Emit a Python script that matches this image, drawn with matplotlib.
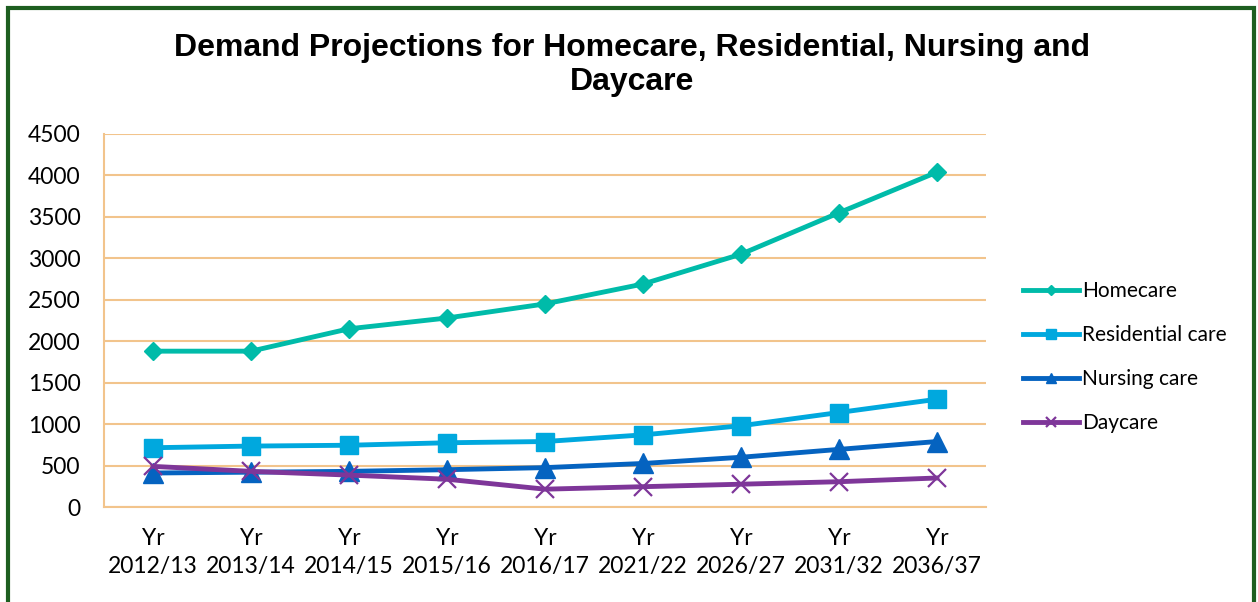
import numpy as np
import matplotlib.pyplot as plt
from matplotlib.patches import Rectangle

years = ["2012/13", "2013/14", "2014/15", "2015/16", "2016/17",
         "2021/22", "2026/27", "2031/32", "2036/37"]
homecare = [1880, 1880, 2150, 2280, 2450, 2690, 3050, 3550, 4040]
residential = [715, 735, 745, 775, 790, 870, 980, 1140, 1300]
nursing = [410, 420, 430, 450, 475, 525, 600, 695, 790]
daycare = [490, 430, 385, 335, 215, 245, 275, 305, 350]

W, H = 1258, 602
fig = plt.figure(figsize=(W / 100, H / 100), dpi=100)
ax = fig.add_axes([104 / W, 1 - 507 / H, (986 - 104) / W, (507 - 134) / H])

x = np.arange(len(years))
ax.plot(x, homecare, color="#00BBA9", lw=3.5, marker="D", ms=9.5, label="Homecare")
ax.plot(x, residential, color="#00A8DE", lw=3.5, marker="s", ms=13.5, label="Residential care")
ax.plot(x, nursing, color="#0563C0", lw=3.5, marker="^", ms=14, label="Nursing care")
ax.plot(x, daycare, color="#7E3699", lw=3.5, marker="x", ms=13, mew=1.6, label="Daycare")

ax.set_xlim(-0.5, len(years) - 0.5)
ax.set_ylim(0, 4500)
ax.set_yticks(np.arange(0, 4501, 500))
ax.set_xticks(x)
ax.set_xticklabels(["Yr\n" + y for y in years], linespacing=1.45)

grid_col = "#F2C48C"
ax.grid(axis="y", color=grid_col, lw=1.5)
ax.set_axisbelow(True)
for s in ["top", "right"]:
    ax.spines[s].set_visible(False)
for s in ["left", "bottom"]:
    ax.spines[s].set_color(grid_col)
    ax.spines[s].set_linewidth(1.5)
ax.tick_params(axis="both", length=0, labelsize=16.5)
ax.tick_params(axis="y", pad=17)
ax.tick_params(axis="x", pad=15)
for t in ax.get_xticklabels() + ax.get_yticklabels():
    t.set_family("Lato")

fig.text(632 / W, 1 - 65 / H,
         "Demand Projections for Homecare, Residential, Nursing and\nDaycare",
         ha="center", va="center", fontsize=23, fontweight="bold",
         family="Liberation Sans", linespacing=1.2)

leg = fig.legend(loc="center left", bbox_to_anchor=(1004 / W, 1 - 357 / H),
                 frameon=False, prop={"family": "Lato", "size": 15},
                 handlelength=2.7, handletextpad=0.15, labelspacing=1.15,
                 markerscale=0.55)

fig.patches.append(Rectangle((7.5 / W, -0.05), (1254 - 7.5) / W, 1.05 - 8.5 / H,
                             transform=fig.transFigure, fill=False,
                             edgecolor="#1E5E20", lw=3, clip_on=False))

fig.savefig("out.png", dpi=100)
